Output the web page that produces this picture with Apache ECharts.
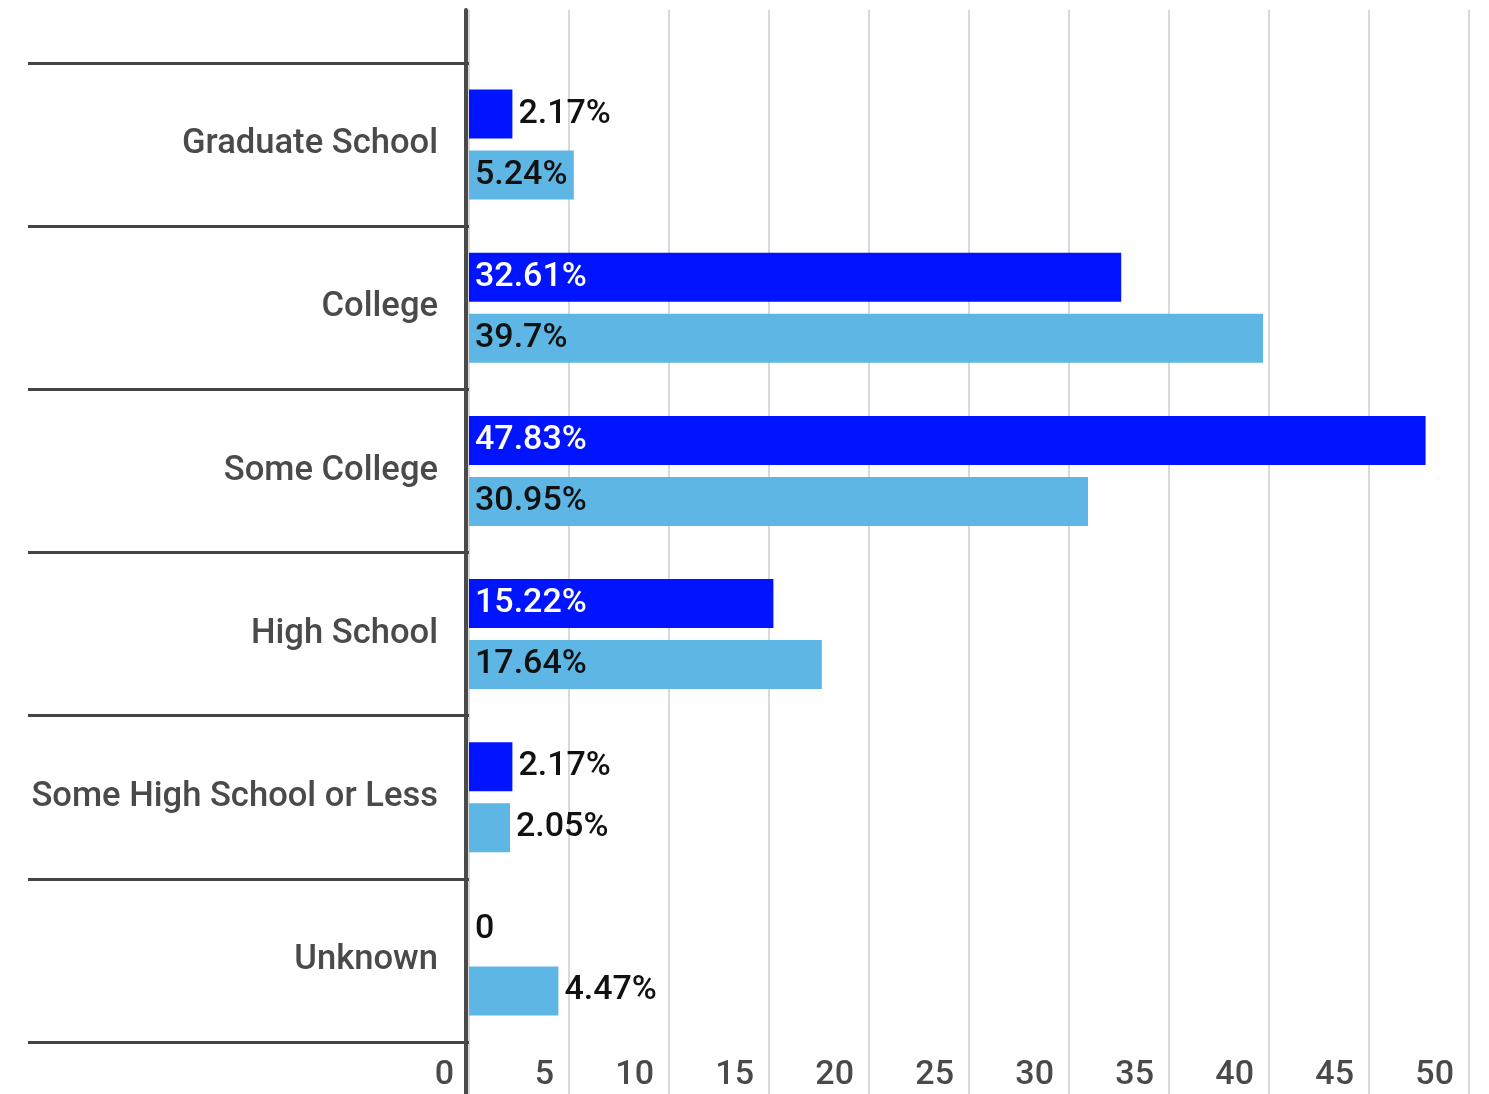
<!DOCTYPE html>
<html>
<head>
<meta charset="utf-8">
<script src="https://cdn.jsdelivr.net/npm/echarts@6/dist/echarts.min.js"></script>
<style>
  html, body { margin: 0; padding: 0; background: #ffffff; }
  #chart { width: 1489px; height: 1094px; }
</style>
</head>
<body>
<div id="chart"></div>
<script>
// Education level shares (percent), two groups
const categories = ['Graduate School', 'College', 'Some College', 'High School', 'Some High School or Less', 'Unknown'];
const seriesA = [2.17, 32.61, 47.83, 15.22, 2.17, 0];
const seriesB = [5.24, 39.7, 30.95, 17.64, 2.05, 4.47];
const xTicks = { min: 0, max: 50, interval: 5 };

const FONT = 'Roboto, "Noto Sans", sans-serif';
const DARK = '#0014ff';
const LIGHT = '#5db6e4';

function labelText(v) {
  return v === 0 ? '0' : v + '%';
}

// Wide bars carry their label inside, short ones beside the bar end
function barData(values, insideColor) {
  return values.map(function (v) {
    const inside = v >= 5;
    return {
      value: v,
      label: {
        position: inside ? 'insideLeft' : 'right',
        color: inside ? insideColor : '#111111'
      }
    };
  });
}

const chart = echarts.init(document.getElementById('chart'), null, { renderer: 'canvas' });

chart.setOption({
  animation: false,
  backgroundColor: '#ffffff',
  grid: [
    // bars and category bands
    { left: 469, right: 20, top: 63, bottom: 52, containLabel: false },
    // full-height frame: vertical gridlines, value ticks, left axis line
    { left: 469, right: 20, top: 10, bottom: 0, containLabel: false }
  ],
  xAxis: [
    {
      gridIndex: 0, type: 'value', min: xTicks.min, max: xTicks.max, interval: xTicks.interval,
      show: false
    },
    {
      gridIndex: 1, type: 'value', min: xTicks.min, max: xTicks.max, interval: xTicks.interval,
      position: 'bottom',
      axisLine: { show: false },
      axisTick: { show: false },
      splitLine: { show: true, lineStyle: { color: '#d9d9d9', width: 2 } },
      axisLabel: {
        show: true, inside: true, margin: 2,
        align: 'right', padding: [0, 15, 0, 0],
        fontFamily: FONT, fontSize: 34, fontWeight: 500, color: '#4a4a4a',
        showMinLabel: true, showMaxLabel: true
      }
    }
  ],
  yAxis: [
    {
      gridIndex: 0, type: 'category', data: categories, inverse: true,
      offset: 3,
      axisLine: { show: false },
      axisTick: { show: true, length: 441, lineStyle: { color: '#444444', width: 3 } },
      axisLabel: {
        margin: 28, padding: [6, 0, 0, 0],
        fontFamily: FONT, fontSize: 34.6, fontWeight: 500, color: '#4a4a4a'
      },
      splitLine: { show: false }
    },
    {
      gridIndex: 1, type: 'value', min: 0, max: 1,
      offset: 3,
      axisLine: { show: true, onZero: false, lineStyle: { color: '#4a4a4a', width: 4 } },
      axisTick: { show: false },
      axisLabel: { show: false },
      splitLine: { show: false }
    }
  ],
  series: [
    {
      type: 'bar', xAxisIndex: 0, yAxisIndex: 0,
      data: barData(seriesA, '#ffffff'),
      barWidth: 49, barGap: '24.5%',
      itemStyle: { color: DARK },
      label: {
        show: true, distance: 6, fontFamily: FONT, fontSize: 34, fontWeight: 500,
        formatter: function (p) { return labelText(p.value); }
      },
      z: 3
    },
    {
      type: 'bar', xAxisIndex: 0, yAxisIndex: 0,
      data: barData(seriesB, '#111111'),
      barWidth: 49, barGap: '24.5%',
      itemStyle: { color: LIGHT },
      label: {
        show: true, distance: 6, fontFamily: FONT, fontSize: 34, fontWeight: 500,
        formatter: function (p) { return labelText(p.value); }
      },
      z: 3
    }
  ]
});
</script>
</body>
</html>
